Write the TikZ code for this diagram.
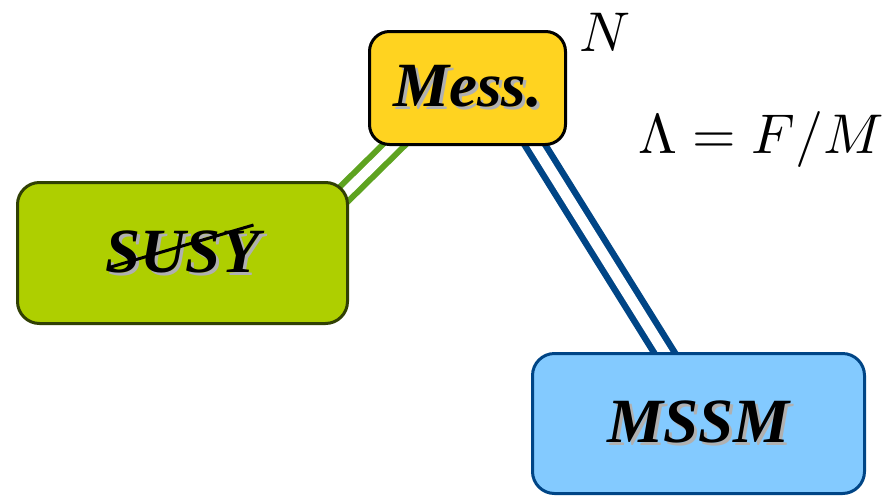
\documentclass[tikz,border=0pt]{standalone}
\usepackage{fontspec}
\newfontfamily\labelfont{Liberation Serif}
\usetikzlibrary{backgrounds}

\definecolor{messyellow}{HTML}{FFD320}
\definecolor{susygreen}{HTML}{AECF00}
\definecolor{susyborder}{HTML}{314004}
\definecolor{linkgreen}{HTML}{5EA320}
\definecolor{mssmblue}{HTML}{83CAFF}
\definecolor{mssmborder}{HTML}{004586}
\definecolor{shadowgray}{HTML}{B0B0B0}

% text with a grey drop shadow
\newcommand{\shadowed}[1]{\makebox[0pt][l]{\hspace{3pt}\raisebox{-3pt}{\textcolor{shadowgray}{#1}}}#1}

\begin{document}
\begin{tikzpicture}[x=1pt,y=-1pt]
\tikzset{sector/.style={draw, line width=3pt, rounded corners=22pt, inner sep=0pt,
  font=\labelfont\bfseries\itshape\fontsize{63}{65}\selectfont},
  link/.style={line width=6pt, double=white, double distance=10pt},
  biglabel/.style={scale=5.6}}
\useasboundingbox (0,0) rectangle (889,496);
\node[sector, fill=messyellow, minimum width=196, minimum height=113, rounded corners=20pt] (mess) at (467.5,88) {\shadowed{Mess.}};
\node[sector, fill=susygreen, draw=susyborder, minimum width=330, minimum height=141] (susy) at (182.5,253) {\shadowed{SUSY}};
\node[sector, fill=mssmblue, draw=mssmborder, minimum width=332, minimum height=140] (mssm) at (698.5,423.5) {\shadowed{MSSM}};
\draw[line width=3pt] ([shift={(-75,15)}]susy.center) -- ([shift={(71,-28)}]susy.center);
\node[biglabel] (nlabel) at (605,32) {$N$};
\node[biglabel] (scale) at (761,139) {$\Lambda = F/M$};
\begin{scope}[on background layer]
\draw[link, draw=linkgreen] ([shift={(34,-9)}]mess.south west) -- ([shift={(-10,18)}]susy.north east);
\draw[link, draw=mssmborder, line width=6.5pt, double distance=11pt] ([shift={(-37,-9)}]mess.south east) -- ([shift={(138,8)}]mssm.north west);
\end{scope}
\end{tikzpicture}
\end{document}
